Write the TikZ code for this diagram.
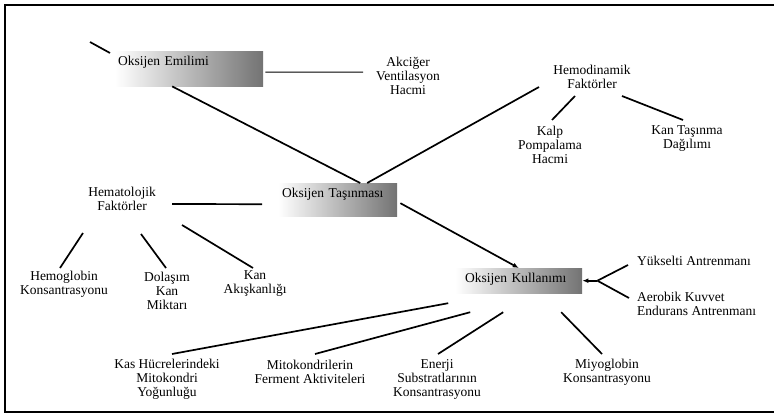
\documentclass[tikz,border=0pt]{standalone}
\usepackage{fontspec}
\setmainfont{Liberation Serif}
\usepackage{tikz}
\usetikzlibrary{
  arrows.meta,
  calc,
  positioning,
}
\tikzstyle{ok} = [
  -{Latex[length=6pt,width=5pt]},
  line width=1.7pt,
  black,
]
\tikzstyle{cizgi} = [
  line width=1.7pt,
  black,
]
\newcommand{\metin}{\fontsize{13.5}{14}\selectfont}

\begin{document}
\begin{tikzpicture}[x=1pt, y=-1pt,
    kutu/.style={anchor=north west, inner xsep=#1, inner ysep=0pt,
                 align=left, font=\metin, text height=9.5pt,
                 left color=white, right color=black!55},
    yazi/.style={align=center, inner sep=1pt, font=\metin}]
    \path[use as bounding box, clip] (0,0) rectangle (774,415);
    \draw [line width=2pt] (5,4.5) rectangle (790,411.5);
    % kutular
    \node [kutu=3pt, minimum height=35pt, text width=142pt, text depth=16pt]
          (emilimi) at (115,51) {Oksijen Emilimi};
    \node [kutu=4pt, minimum height=33pt, text width=111pt, text depth=14pt]
          (tasinma) at (278,183) {Oksijen Taşınması};
    \node [kutu=10pt, minimum height=25pt, text width=107pt, text depth=6pt]
          (kull) at (455,268) {Oksijen Kullanımı};
    % yazilar
    \node [yazi] (akciger) at (408,76) {Akciğer\\Ventilasyon\\Hacmi};
    \node [yazi] (hemo) at (592,77) {Hemodinamik\\Faktörler};
    \node [yazi] (kalp) at (550,145) {Kalp\\Pompalama\\Hacmi};
    \node [yazi] (kantas) at (687,138.5) {Kan Taşınma\\Dağılımı};
    \node [yazi] (hemato) at (122,198.5) {Hematolojik\\Faktörler};
    \node [yazi] (hemoglobin) at (64,284) {Hemoglobin\\Konsantrasyonu};
    \node [yazi] (dolasim) at (167,291) {Dolaşım\\Kan\\Miktarı};
    \node [yazi] (akiskan) at (255,284) {Kan\\Akışkanlığı};
    \node [yazi, anchor=west] (yukselti) at (636,261) {Yükselti Antrenmanı};
    \node [yazi, anchor=west, align=left] (aerobik) at (636,303.5)
          {Aerobik Kuvvet\\Endurans Antrenmanı};
    \node [yazi] (kas) at (167,379) {Kas Hücrelerindeki\\Mitokondri\\Yoğunluğu};
    \node [yazi] (mito) at (310,372) {Mitokondrilerin\\Ferment Aktiviteleri};
    \node [yazi] (enerji) at (437,379) {Enerji\\Substratlarının\\Konsantrasyonu};
    \node [yazi] (miyo) at (607,372) {Miyoglobin\\Konsantrasyonu};
    \coordinate (kesik) at (90,42);
    \coordinate (birlesim) at ($(kull.east)+(15,0)$);
    % baglantilar
    \draw [cizgi] (kesik) -- ($(emilimi.north west)+(-5,2)$);
    \draw [line width=1pt] ($(emilimi.east)+(2,3.5)$) -- ($(akciger)+(-45,-4)$);
    \draw [cizgi] ($(emilimi.south)+(-17,0)$) -- ($(tasinma.north)+(22.5,0)$);
    \draw [cizgi] ($(hemo)+(-53,10)$) -- ($(tasinma.north)+(29.5,0)$);
    \draw [cizgi] ($(hemo)+(-17,19)$) -- ($(kalp)+(2,-25)$);
    \draw [cizgi] ($(hemo)+(30,19)$) -- ($(kantas)+(-4,-18.5)$);
    \draw [ok] ($(tasinma.east)+(3,3.5)$) -- (kull.north);
    \draw [cizgi] ($(hemato)+(50,5.5)$) -- ($(tasinma.west)+(-16,4.5)$);
    \draw [cizgi] ($(hemato)+(-39,34.5)$) -- ($(hemoglobin)+(-4,-16)$);
    \draw [cizgi] ($(hemato)+(19,35.5)$) -- ($(dolasim)+(-1,-23)$);
    \draw [cizgi] ($(hemato)+(60,26.5)$) -- ($(akiskan)+(-2,-16)$);
    \draw [cizgi] ($(yukselti.west)+(-8,4)$) -- (birlesim);
    \draw [cizgi] ($(aerobik.west)+(-7,-5.5)$) -- (birlesim);
    \draw [ok] (birlesim) -- (kull.east);
    \draw [cizgi] ($(kull)+(-70.5,22.5)$) -- ($(kas)+(5,-25)$);
    \draw [cizgi] ($(kull)+(-48.5,31.5)$) -- ($(mito)+(5,-18)$);
    \draw [cizgi] ($(kull)+(-15.5,31.5)$) -- ($(enerji)+(1,-25)$);
    \draw [cizgi] ($(kull)+(42.5,31.5)$) -- ($(miyo)+(-5,-18)$);
  \end{tikzpicture}
\end{document}
